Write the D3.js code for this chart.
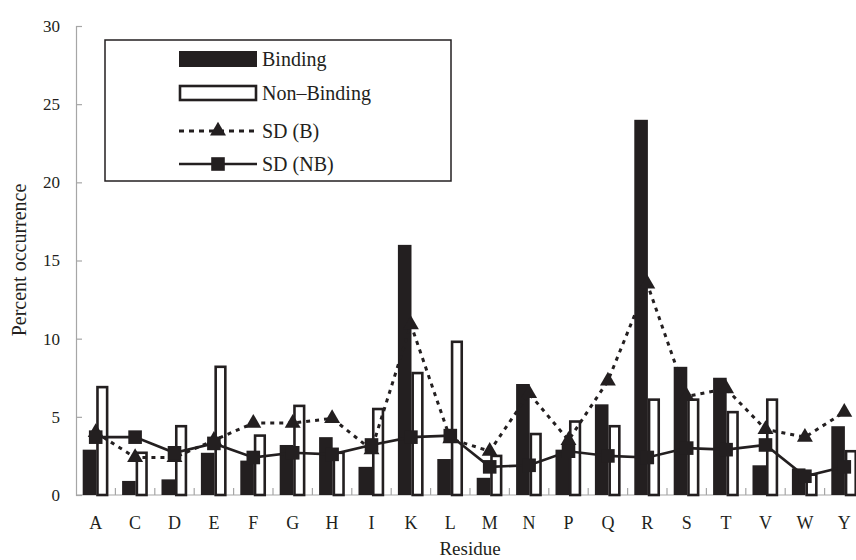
<!DOCTYPE html>
<html>
<head>
<meta charset="utf-8">
<script src="https://cdn.jsdelivr.net/npm/d3@7"></script>
<style>
  body { margin: 0; background: #fff; }
  svg text { font-family: "Times New Roman", "Liberation Serif", "DejaVu Serif", serif; fill: #231f20; }
</style>
</head>
<body>
<svg id="chart" width="856" height="560"></svg>
<script>
// residues along the x axis
const residues = ["A","C","D","E","F","G","H","I","K","L","M","N","P","Q","R","S","T","V","W","Y"];

// percent occurrence
const binding    = [2.9, 0.9, 1.0, 2.7, 2.2, 3.2, 3.7, 1.8, 16.0, 2.3, 1.1, 7.1, 2.9, 5.8, 24.0, 8.2, 7.5, 1.9, 1.7, 4.4];
const nonBinding = [6.9, 2.7, 4.4, 8.2, 3.8, 5.7, 2.7, 5.5, 7.8, 9.8, 2.5, 3.9, 4.7, 4.4, 6.1, 6.1, 5.3, 6.1, 1.3, 2.8];
const sdB        = [4.0, 2.4, 2.4, 3.5, 4.6, 4.6, 4.9, 2.9, 10.9, 3.6, 2.8, 6.5, 3.5, 7.3, 13.5, 6.3, 6.8, 4.2, 3.7, 5.3];
const sdNB       = [3.7, 3.7, 2.7, 3.3, 2.4, 2.7, 2.6, 3.2, 3.7, 3.8, 1.8, 1.9, 2.8, 2.5, 2.4, 3.0, 2.9, 3.2, 1.2, 1.8];

const yTicks = [0, 5, 10, 15, 20, 25, 30];
const legendItems = ["Binding", "Non\u2013Binding", "SD (B)", "SD (NB)"];

const ink = "#231f20";
const axisGrey = "#a6a6a6";
const serif = "'Times New Roman', 'Liberation Serif', 'DejaVu Serif', serif";

const svg = d3.select("#chart");
svg.append("rect").attr("width", 856).attr("height", 560).attr("fill", "#fff");

// scales
const x = d3.scaleBand().domain(residues).range([76, 864]).padding(0);
const y = d3.scaleLinear().domain([0, 30]).range([495, 26]);
const bw = x.bandwidth();

// y axis
const yAxis = svg.append("g")
  .attr("transform", "translate(76,0)")
  .call(d3.axisRight(y).tickValues(yTicks).tickSize(6).tickFormat(""));
yAxis.select(".domain").attr("stroke", axisGrey).attr("stroke-width", 1.2);
yAxis.selectAll(".tick line").attr("stroke", axisGrey).attr("stroke-width", 1.2);

svg.append("g").selectAll("text")
  .data(yTicks)
  .join("text")
  .attr("x", 60)
  .attr("y", d => y(d))
  .attr("dy", "0.35em")
  .attr("text-anchor", "end")
  .attr("font-family", serif)
  .attr("font-size", 17)
  .text(d => d);

// x axis: line plus small ticks at the category boundaries
svg.append("line")
  .attr("x1", 76).attr("x2", 864)
  .attr("y1", y(0)).attr("y2", y(0))
  .attr("stroke", axisGrey).attr("stroke-width", 1.2);

svg.append("g").selectAll("line")
  .data(residues.slice(1))
  .join("line")
  .attr("x1", d => x(d)).attr("x2", d => x(d))
  .attr("y1", y(0)).attr("y2", y(0) - 7)
  .attr("stroke", axisGrey).attr("stroke-width", 1.2);

svg.append("g").selectAll("text")
  .data(residues)
  .join("text")
  .attr("x", d => x(d) + bw / 2)
  .attr("y", 529)
  .attr("text-anchor", "middle")
  .attr("font-family", serif)
  .attr("font-size", 18)
  .text(d => d);

// axis titles
svg.append("text")
  .attr("x", 470).attr("y", 555)
  .attr("text-anchor", "middle")
  .attr("font-family", serif)
  .attr("font-size", 19)
  .text("Residue");

svg.append("text")
  .attr("transform", "translate(26,260) rotate(-90)")
  .attr("text-anchor", "middle")
  .attr("font-family", serif)
  .attr("font-size", 20)
  .text("Percent occurrence");

// bars
svg.append("g").selectAll("rect")
  .data(binding)
  .join("rect")
  .attr("x", (d, i) => x(residues[i]) + bw * 0.17)
  .attr("width", bw * 0.345)
  .attr("y", d => y(d))
  .attr("height", d => y(0) - y(d))
  .attr("fill", ink);

svg.append("g").selectAll("rect")
  .data(nonBinding)
  .join("rect")
  .attr("x", (d, i) => x(residues[i]) + bw * 0.545)
  .attr("width", bw * 0.245)
  .attr("y", d => y(d))
  .attr("height", d => y(0) - y(d))
  .attr("fill", "#fff")
  .attr("stroke", ink)
  .attr("stroke-width", 2.6);

// SD lines
const line = d3.line()
  .x((d, i) => x(residues[i]) + bw / 2)
  .y(d => y(d));

const tri = d3.symbol().type(d3.symbolTriangle).size(110);
const sq = d3.symbol().type(d3.symbolSquare).size(185);

svg.append("path")
  .datum(sdB)
  .attr("d", line)
  .attr("fill", "none")
  .attr("stroke", ink)
  .attr("stroke-width", 3)
  .attr("stroke-dasharray", "4,5");

svg.append("g").selectAll("path")
  .data(sdB)
  .join("path")
  .attr("transform", (d, i) => `translate(${x(residues[i]) + bw / 2},${y(d)})`)
  .attr("d", tri)
  .attr("fill", ink);

svg.append("path")
  .datum(sdNB)
  .attr("d", line)
  .attr("fill", "none")
  .attr("stroke", ink)
  .attr("stroke-width", 2.6);

svg.append("g").selectAll("path")
  .data(sdNB)
  .join("path")
  .attr("transform", (d, i) => `translate(${x(residues[i]) + bw / 2},${y(d)})`)
  .attr("d", sq)
  .attr("fill", ink);

// legend
const lg = svg.append("g");
lg.append("rect")
  .attr("x", 105).attr("y", 40)
  .attr("width", 346).attr("height", 141)
  .attr("fill", "#fff")
  .attr("stroke", ink)
  .attr("stroke-width", 1.5);

const rowY = [59, 93, 131, 164];
const sx0 = 179, sx1 = 257;

lg.append("rect")
  .attr("x", sx0).attr("y", rowY[0] - 8)
  .attr("width", sx1 - sx0).attr("height", 16)
  .attr("fill", ink);

lg.append("rect")
  .attr("x", sx0 + 1).attr("y", rowY[1] - 7)
  .attr("width", sx1 - sx0 - 2).attr("height", 14)
  .attr("fill", "#fff")
  .attr("stroke", ink)
  .attr("stroke-width", 2.6);

lg.append("line")
  .attr("x1", sx0).attr("x2", sx1)
  .attr("y1", rowY[2]).attr("y2", rowY[2])
  .attr("stroke", ink).attr("stroke-width", 3)
  .attr("stroke-dasharray", "5,5");
lg.append("path")
  .attr("transform", `translate(${(sx0 + sx1) / 2},${rowY[2]})`)
  .attr("d", tri)
  .attr("fill", ink);

lg.append("line")
  .attr("x1", sx0).attr("x2", sx1)
  .attr("y1", rowY[3]).attr("y2", rowY[3])
  .attr("stroke", ink).attr("stroke-width", 2.6);
lg.append("path")
  .attr("transform", `translate(${(sx0 + sx1) / 2},${rowY[3]})`)
  .attr("d", sq)
  .attr("fill", ink);

lg.selectAll("text.item")
  .data(legendItems)
  .join("text")
  .attr("class", "item")
  .attr("x", 262)
  .attr("y", (d, i) => rowY[i])
  .attr("dy", "0.35em")
  .attr("font-family", serif)
  .attr("font-size", 20)
  .text(d => d);
</script>
</body>
</html>
